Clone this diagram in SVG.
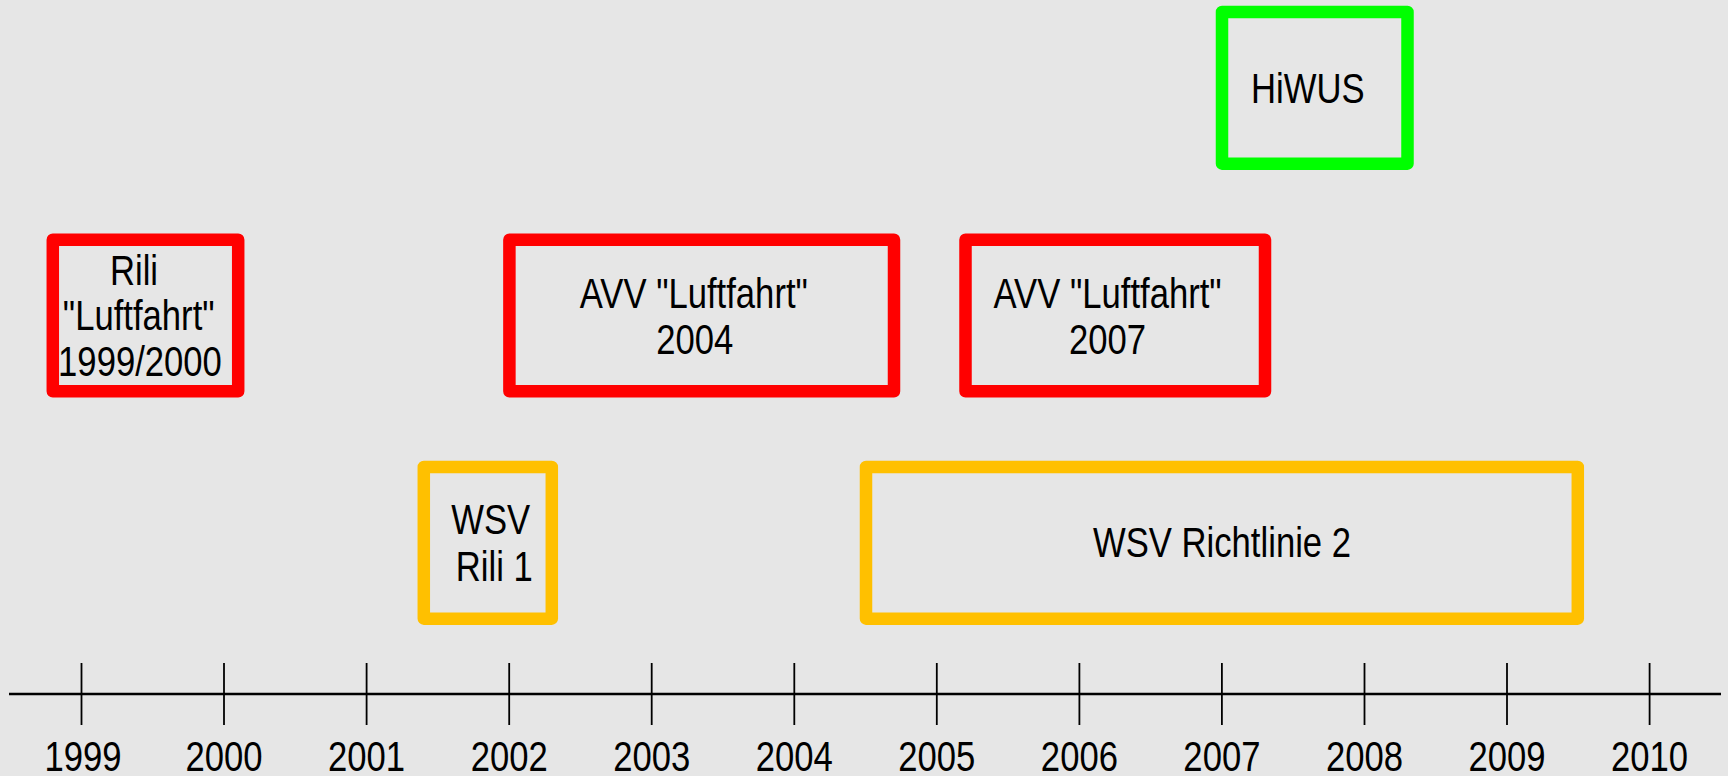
<svg xmlns="http://www.w3.org/2000/svg" width="1728" height="776" viewBox="0 0 1728 776">
<style>
.bg{fill:#e6e6e6}
.box{fill:none;stroke-width:12.5;stroke-linejoin:round}
.red{stroke:#ff0000}
.org{stroke:#ffc000}
.grn{stroke:#00ff00}
.t{font-family:"Liberation Sans",Arial,sans-serif;font-size:42px;fill:#000;text-anchor:middle}
.axis{stroke:#000;stroke-width:2.5;fill:none}
.tick{stroke:#000;stroke-width:1.8;fill:none}
</style>
<rect class="bg" x="0" y="0" width="1728" height="776"/>
<g id="axis">
<line class="axis" x1="9" y1="694" x2="1721" y2="694"/>
<g class="tick-group">
<line class="tick" x1="81.5" y1="663" x2="81.5" y2="725"/>
<line class="tick" x1="224" y1="663" x2="224" y2="725"/>
<line class="tick" x1="366.6" y1="663" x2="366.6" y2="725"/>
<line class="tick" x1="509.2" y1="663" x2="509.2" y2="725"/>
<line class="tick" x1="651.7" y1="663" x2="651.7" y2="725"/>
<line class="tick" x1="794.3" y1="663" x2="794.3" y2="725"/>
<line class="tick" x1="936.8" y1="663" x2="936.8" y2="725"/>
<line class="tick" x1="1079.4" y1="663" x2="1079.4" y2="725"/>
<line class="tick" x1="1221.9" y1="663" x2="1221.9" y2="725"/>
<line class="tick" x1="1364.5" y1="663" x2="1364.5" y2="725"/>
<line class="tick" x1="1507" y1="663" x2="1507" y2="725"/>
<line class="tick" x1="1649.6" y1="663" x2="1649.6" y2="725"/>
</g>
<text class="t" transform="translate(83 771) scale(0.825 1)">1999</text>
<text class="t" transform="translate(224 771) scale(0.825 1)">2000</text>
<text class="t" transform="translate(366.6 771) scale(0.825 1)">2001</text>
<text class="t" transform="translate(509.2 771) scale(0.825 1)">2002</text>
<text class="t" transform="translate(651.7 771) scale(0.825 1)">2003</text>
<text class="t" transform="translate(794.3 771) scale(0.825 1)">2004</text>
<text class="t" transform="translate(936.8 771) scale(0.825 1)">2005</text>
<text class="t" transform="translate(1079.4 771) scale(0.825 1)">2006</text>
<text class="t" transform="translate(1221.9 771) scale(0.825 1)">2007</text>
<text class="t" transform="translate(1364.5 771) scale(0.825 1)">2008</text>
<text class="t" transform="translate(1507 771) scale(0.825 1)">2009</text>
<text class="t" transform="translate(1649.6 771) scale(0.825 1)">2010</text>
</g>
<g id="node-rili-1999">
<rect class="box red" x="52.8" y="239.7" width="185.4" height="151.6"/>
<text class="t" transform="translate(134 285) scale(0.825 1)">Rili</text>
<text class="t" transform="translate(138.7 330) scale(0.825 1)">"Luftfahrt"</text>
<text class="t" transform="translate(140 375.7) scale(0.825 1)">1999/2000</text>
</g>
<g id="node-avv-2004">
<rect class="box red" x="509.4" y="239.7" width="384.6" height="151.6"/>
<text class="t" transform="translate(693.8 308.3) scale(0.825 1)">AVV "Luftfahrt"</text>
<text class="t" transform="translate(694.8 354) scale(0.825 1)">2004</text>
</g>
<g id="node-avv-2007">
<rect class="box red" x="965.5" y="239.7" width="299.5" height="151.6"/>
<text class="t" transform="translate(1107.6 308.3) scale(0.825 1)">AVV "Luftfahrt"</text>
<text class="t" transform="translate(1107.6 354) scale(0.825 1)">2007</text>
</g>
<g id="node-hiwus">
<rect class="box grn" x="1222" y="12" width="185.5" height="151.7"/>
<text class="t" transform="translate(1307.8 102.7) scale(0.825 1)">HiWUS</text>
</g>
<g id="node-wsv-rili1">
<rect class="box org" x="423.8" y="467" width="128" height="151.7"/>
<text class="t" transform="translate(490.7 534) scale(0.825 1)">WSV</text>
<text class="t" transform="translate(494.3 580.7) scale(0.825 1)">Rili 1</text>
</g>
<g id="node-wsv-richtlinie2">
<rect class="box org" x="866" y="467" width="711.8" height="151.7"/>
<text class="t" transform="translate(1222 557.3) scale(0.825 1)">WSV Richtlinie 2</text>
</g>
<g id="connectors"></g>
</svg>
